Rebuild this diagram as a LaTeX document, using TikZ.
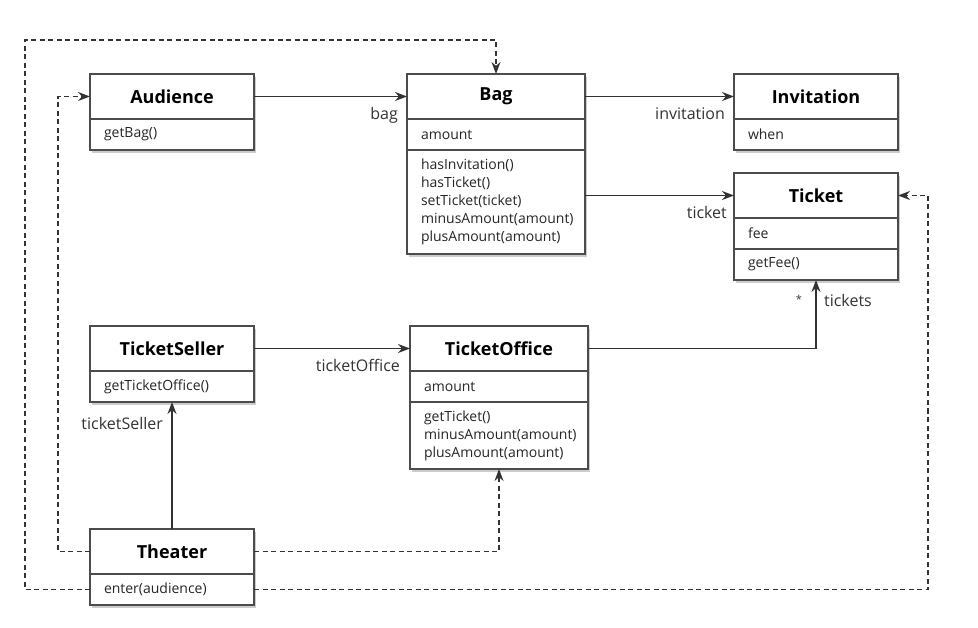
\documentclass[tikz,border=0pt]{standalone}
\usepackage{fontspec}
\setmainfont{Open Sans}
\usepackage{tikz}
\usetikzlibrary{shapes, arrows, positioning, shadows, calc, arrows.meta}

\begin{document}
\begin{tikzpicture}[
        x=1pt, y=-1pt,
        box/.style={rectangle, draw=black!70, fill=white, line width=1.6pt, outer sep=0pt, drop shadow={shadow xshift=1.5pt, shadow yshift=-3pt, opacity=0.4}},
        cls/.style={box, minimum width=164pt, minimum height=45pt, inner sep=0pt, font=\fontsize{18}{20}\selectfont\bfseries},
        members/.style={box, minimum height=31pt, inner xsep=14pt, inner ysep=0pt, text width=136pt, align=left, text=black!85, font=\fontsize{14}{18}\selectfont},
        assoc/.style={-{Stealth[length=12pt, width=9pt]}, line width=1.6pt, black!80},
        dep/.style={assoc, dash pattern=on 5pt off 3.5pt},
        role/.style={font=\fontsize{16}{18}\selectfont, text=black!80}
    ]
        \useasboundingbox (0,0) rectangle (978,628);

        % Classes
        \node[cls] (audience) at (172,96.5) {Audience};
        \node[members, below=0pt of audience] (audienceOps) {getBag()};

        \node[cls, minimum width=178pt, right=153pt of audience] (bag) {Bag};
        \node[members, text width=150pt, below=0pt of bag] (bagAttrs) {amount};
        \node[members, text width=150pt, minimum height=104pt, below=0pt of bagAttrs] (bagOps) {hasInvitation()\\hasTicket()\\setTicket(ticket)\\minusAmount(amount)\\plusAmount(amount)};

        \node[cls, right=149pt of bag] (invitation) {Invitation};
        \node[members, below=0pt of invitation] (invitationAttrs) {when};

        \node[cls, below=23pt of invitationAttrs] (ticket) {Ticket};
        \node[members, below=0pt of ticket] (ticketAttrs) {fee};
        \node[members, below=0pt of ticketAttrs] (ticketOps) {getFee()};

        \node[cls, below=176pt of audienceOps] (seller) {TicketSeller};
        \node[members, below=0pt of seller] (sellerOps) {getTicketOffice()};

        \node[cls, minimum width=178pt, right=156pt of seller] (office) {TicketOffice};
        \node[members, text width=150pt, below=0pt of office] (officeAttrs) {amount};
        \node[members, text width=150pt, minimum height=67pt, below=0pt of officeAttrs] (officeOps) {getTicket()\\minusAmount(amount)\\plusAmount(amount)};

        \node[cls, below=127pt of sellerOps] (theater) {Theater};
        \node[members, below=0pt of theater] (theaterOps) {enter(audience)};

        % Associations
        \draw[assoc] (audience.east) -- (bag.west) node[pos=1, below left=7pt and 5pt, role] {bag};
        \draw[assoc] (bag.east) -- (invitation.west) node[pos=1, below left=7pt and 5pt, role] {invitation};
        \draw[assoc] (bagOps.east |- ticket.west) -- (ticket.west) node[pos=1, below left=7pt and 3pt, role] {ticket};
        \draw[assoc] (seller.east) -- (office.west) node[pos=1, below left=7pt and 6pt, role] {ticketOffice};
        \draw[assoc] (theater.north) -- (sellerOps.south) node[pos=0.83, left=5pt, role] {ticketSeller};
        \draw[assoc] (office.east) -| (ticketOps.south) node[pos=0.85, right=4pt, role] {tickets} node[pos=0.86, left=10pt, role, font=\fontsize{11}{12}\selectfont] {*};

        % Dependencies
        \draw[dep] (theater.west) -- ++(-32,0) |- (audience.west);
        \draw[dep] (theaterOps.west) -- ++(-65,0) |- ([yshift=34pt]bag.north) -- (bag.north);
        \draw[dep] (theater.east) -| (officeOps.south);
        \draw[dep] (theaterOps.east) -- ++(674,0) |- (ticket.east);
    \end{tikzpicture}
\end{document}
